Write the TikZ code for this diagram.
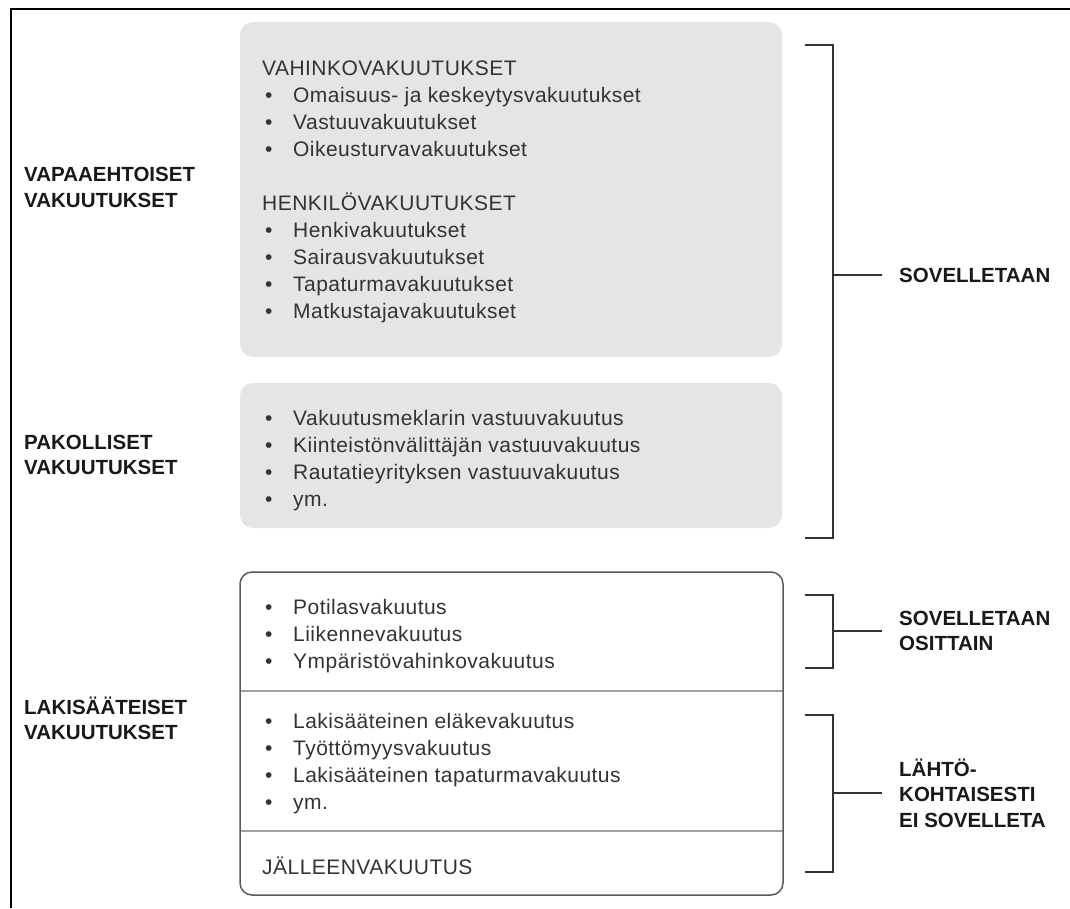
\documentclass[tikz,border=0pt]{standalone}
\usepackage{fontspec}
\setmainfont{Liberation Sans}
\newfontfamily\kevyt[LetterSpace=2.2]{Liberation Sans}
\definecolor{pohja}{HTML}{E5E5E5}
\definecolor{tumma}{HTML}{333333}
\definecolor{reuna}{HTML}{5A5A5A}
\definecolor{jakoviiva}{HTML}{A0A0A0}
\newcommand{\leipa}{\kevyt\fontsize{21}{27}\selectfont}
\newcommand{\lihava}{\fontsize{20.5}{25.5}\selectfont\bfseries}
\newcommand{\kohta}[1]{\makebox[28pt][l]{•}#1}
\newcommand{\hakanen}[5]{% nimi, yla, ala, keski, teksti
  \coordinate (#1y) at (805,#2);
  \coordinate (#1a) at (805,#3);
  \coordinate (#1k) at (833,#4);
  \draw[sulku] (#1y) -| (#1k |- #1a) -- (#1a);
  \node[selite] (#1t) at (882,#4) {#5};
  \draw[sulku] (#1k) -- (#1t.west);
}

\begin{document}
\begin{tikzpicture}[x=1pt,y=-1pt,
  laatikko/.style={fill=pohja,rounded corners=13pt},
  teksti/.style={anchor=base west,inner sep=0pt,text=tumma,font=\leipa},
  otsake/.style={anchor=west,align=left,inner sep=0pt,text=black!90,font=\lihava},
  selite/.style={anchor=west,align=left,inner ysep=0pt,inner xsep=17pt,text=black!90,font=\lihava},
  sulku/.style={draw=tumma,line width=1.7pt},
  jako/.style={draw=jakoviiva,line width=1.5pt}]
  \useasboundingbox (0,0) rectangle (1070,908);
  \draw[line width=2pt] (11,908) -- (11,9) -- (1070,9);

  % laatikot
  \fill[laatikko] (240,22) rectangle (782,357);
  \fill[laatikko] (240,383) rectangle (782,528);
  \draw[jako] (240,691) -- (783,691);
  \draw[jako] (240,831) -- (783,831);
  \draw[draw=reuna,line width=1.5pt,rounded corners=12pt] (240,572) rectangle (783,895);

  % vapaaehtoiset
  \node[teksti] (vahinko) at (262,75) {VAHINKOVAKUUTUKSET};
  \foreach \lab [count=\i] in {Omaisuus- ja keskeytysvakuutukset,Vastuuvakuutukset,Oikeusturvavakuutukset}
    \node[teksti] (vah\i) at (265,75+27*\i) {\kohta{\lab}};
  \node[teksti] (henkilo) at (262,210) {HENKILÖVAKUUTUKSET};
  \foreach \lab [count=\i] in {Henkivakuutukset,Sairausvakuutukset,Tapaturmavakuutukset,Matkustajavakuutukset}
    \node[teksti] (hen\i) at (265,210+27*\i) {\kohta{\lab}};

  % pakolliset
  \foreach \lab [count=\i] in {Vakuutusmeklarin vastuuvakuutus,Kiinteistönvälittäjän vastuuvakuutus,Rautatieyrityksen vastuuvakuutus,ym.}
    \node[teksti] (pak\i) at (265,398.5+27*\i) {\kohta{\lab}};

  % lakisääteiset
  \foreach \lab [count=\i] in {Potilasvakuutus,Liikennevakuutus,Ympäristövahinkovakuutus}
    \node[teksti] (osa\i) at (265,587+27*\i) {\kohta{\lab}};
  \foreach \lab [count=\i] in {Lakisääteinen eläkevakuutus,Työttömyysvakuutus,Lakisääteinen tapaturmavakuutus,ym.}
    \node[teksti] (lak\i) at (265,701+27*\i) {\kohta{\lab}};
  \node[teksti] (jalleen) at (262,874) {JÄLLEENVAKUUTUS};

  % vasen sarake
  \node[otsake] (vapaa) at (24,187.5) {VAPAAEHTOISET\\VAKUUTUKSET};
  \node[otsake] (pakol) at (24,455) {PAKOLLISET\\VAKUUTUKSET};
  \node[otsake] (lakis) at (24,718.5) {LAKISÄÄTEISET\\VAKUUTUKSET};

  % oikea sarake
  \hakanen{s}{45}{538}{275}{SOVELLETAAN}
  \hakanen{o}{595}{668}{631}{SOVELLETAAN\\OSITTAIN}
  \hakanen{e}{715}{872}{793}{LÄHTÖ-\\KOHTAISESTI\\EI SOVELLETA}
\end{tikzpicture}
\end{document}
